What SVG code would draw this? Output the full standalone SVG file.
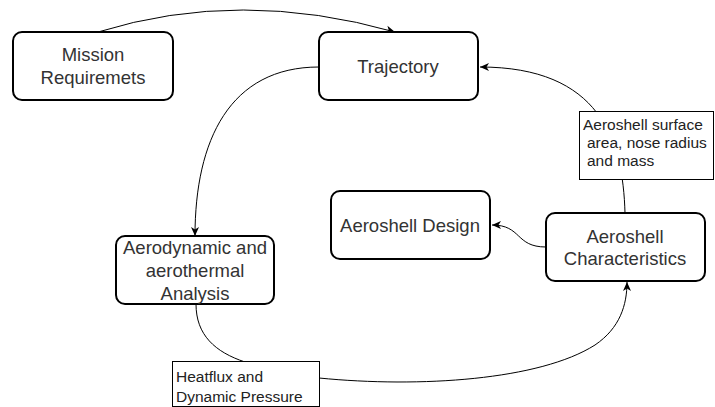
<svg xmlns="http://www.w3.org/2000/svg" width="715" height="407" viewBox="0 0 715 407">
  <defs>
    <marker id="arrow" markerUnits="userSpaceOnUse" markerWidth="10" markerHeight="10" viewBox="0 0 10 8" refX="9" refY="4" orient="auto">
      <path d="M0,0 L9,4 L0,8 L2.5,4 z" fill="#000"/>
    </marker>
    <style>
      .node rect { fill: #fff; stroke: #000; stroke-width: 2; }
      .node text { font-family: "Liberation Sans", Arial, sans-serif; font-size: 18.5px; fill: #333; text-anchor: middle; }
      .label rect { fill: #fff; stroke: #000; stroke-width: 1; }
      .label text { font-family: "Liberation Sans", Arial, sans-serif; font-size: 15.5px; fill: #222; }
      .edge { fill: none; stroke: #000; stroke-width: 1; }
    </style>
  </defs>

  <!-- connectors -->
  <g id="connectors">
    <path class="edge" d="M98 32 Q240 -12 395 32" marker-end="url(#arrow)"/>
    <path class="edge" d="M319 67 C230 67 195 140 195 236" marker-end="url(#arrow)"/>
    <path class="edge" d="M196 304 C196 335 215 352 245 362 L319 378 C420 388 540 380 595 345 C620 328 627 305 627 282" marker-end="url(#arrow)"/>
    <path class="edge" d="M625 213 C623 140 600 67 480 67" marker-end="url(#arrow)"/>
    <path class="edge" d="M546 247 C515 247 522 225 492 225" marker-end="url(#arrow)"/>
  </g>

  <!-- nodes -->
  <g id="mission" class="node">
    <rect x="13" y="32" width="160" height="68" rx="9"/>
    <text x="93" y="61">Mission</text>
    <text x="93" y="84">Requiremets</text>
  </g>
  <g id="trajectory" class="node">
    <rect x="319" y="32" width="159" height="68" rx="9"/>
    <text x="398" y="73">Trajectory</text>
  </g>
  <g id="aeroshell-design" class="node">
    <rect x="331" y="191" width="159" height="68" rx="9"/>
    <text x="410" y="232">Aeroshell Design</text>
  </g>
  <g id="aeroshell-characteristics" class="node">
    <rect x="546" y="213" width="159" height="68" rx="9"/>
    <text x="625" y="243">Aeroshell</text>
    <text x="625" y="265">Characteristics</text>
  </g>
  <g id="analysis" class="node">
    <rect x="116" y="236" width="158" height="68" rx="9"/>
    <text x="195" y="254">Aerodynamic and</text>
    <text x="195" y="277">aerothermal</text>
    <text x="195" y="300">Analysis</text>
  </g>

  <!-- edge labels -->
  <g id="label-aeroshell" class="label">
    <rect x="579.5" y="111.5" width="134" height="68"/>
    <text x="583" y="130">Aeroshell surface</text>
    <text x="587" y="148">area, nose radius</text>
    <text x="587" y="166">and mass</text>
  </g>
  <g id="label-heatflux" class="label">
    <rect x="172.5" y="361.5" width="147" height="45"/>
    <text x="176" y="382">Heatflux and</text>
    <text x="176" y="402">Dynamic Pressure</text>
  </g>
</svg>
